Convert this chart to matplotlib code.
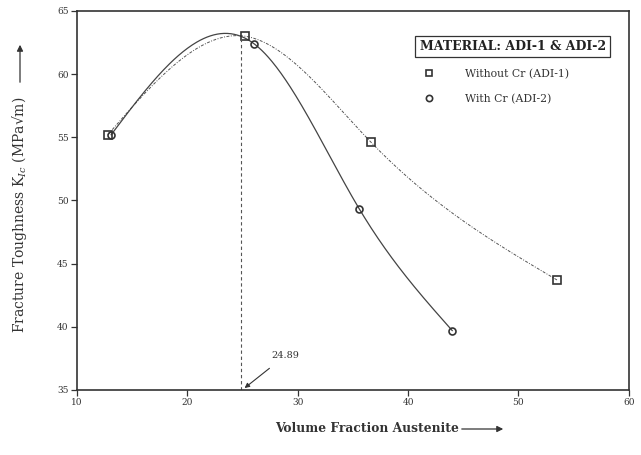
import matplotlib
matplotlib.use("Agg")
import matplotlib.pyplot as plt
from matplotlib.lines import Line2D
import numpy as np

plt.rcParams["font.family"] = "DejaVu Serif"
plt.rcParams["mathtext.fontset"] = "dejavuserif"

# Volume fraction austenite (%) and fracture toughness K_Ic (MPa sqrt(m))
adi1_vf = [12.8, 25.2, 36.65, 53.5]
adi1_kic = [55.2, 63.0, 54.6, 43.7]
adi2_vf = [13.1, 26.05, 35.6, 44.0]
adi2_kic = [55.2, 62.4, 49.3, 39.7]
peak_vf = 24.89


def natural_spline(x, y, num=300):
    # natural cubic spline through the measured points
    x = np.asarray(x, float)
    y = np.asarray(y, float)
    n = len(x)
    h = np.diff(x)
    A = np.zeros((n, n))
    b = np.zeros(n)
    A[0, 0] = A[-1, -1] = 1.0
    for i in range(1, n - 1):
        A[i, i - 1] = h[i - 1]
        A[i, i] = 2 * (h[i - 1] + h[i])
        A[i, i + 1] = h[i]
        b[i] = 6 * ((y[i + 1] - y[i]) / h[i] - (y[i] - y[i - 1]) / h[i - 1])
    M = np.linalg.solve(A, b)
    xs = np.linspace(x[0], x[-1], num)
    k = np.clip(np.searchsorted(x, xs) - 1, 0, n - 2)
    t0 = x[k + 1] - xs
    t1 = xs - x[k]
    hk = h[k]
    ys = (M[k] * t0**3 + M[k + 1] * t1**3) / (6 * hk) \
        + (y[k] / hk - M[k] * hk / 6) * t0 + (y[k + 1] / hk - M[k + 1] * hk / 6) * t1
    return xs, ys


fig = plt.figure(figsize=(6.41, 4.55), dpi=100)
ax = fig.add_axes([0.120, 0.143, 0.861, 0.833])

ink = "#333333"

xs, ys = natural_spline(adi1_vf, adi1_kic)
ax.plot(xs, ys, color="#555555", lw=0.7, linestyle=(0, (3, 1.5, 1, 1.5)))
xs, ys = natural_spline(adi2_vf, adi2_kic)
ax.plot(xs, ys, color="#444444", lw=0.9)

ax.plot(adi1_vf, adi1_kic, linestyle="none", marker="s", ms=5.5,
        mfc="none", mec=ink, mew=1.2)
ax.plot(adi2_vf, adi2_kic, linestyle="none", marker="o", ms=5,
        mfc="none", mec=ink, mew=1.2)

# peak position marker
ax.plot([peak_vf, peak_vf], [35, adi1_kic[1]], color="#555555", lw=0.8,
        linestyle=(0, (3, 2.5)))
ax.annotate(f"{peak_vf:.2f}", xy=(peak_vf + 0.3, 35.15), xytext=(27.6, 37.5),
            fontsize=7, color=ink,
            arrowprops=dict(arrowstyle="-|>", color=ink, lw=0.8,
                            mutation_scale=7, shrinkA=6, shrinkB=0))

ax.set_xlim(10, 60)
ax.set_ylim(35, 65)
ax.set_xticks(range(10, 61, 10))
ax.set_yticks(range(35, 66, 5))
ax.tick_params(direction="out", length=4, width=0.9, labelsize=6.5,
               colors=ink, pad=2)
for s in ax.spines.values():
    s.set_linewidth(1.2)
    s.set_color(ink)

# legend
ax.text(0.79, 0.906, "MATERIAL: ADI-1 & ADI-2", transform=ax.transAxes,
        ha="center", va="center", fontsize=9, fontweight="bold", color="#222222",
        bbox=dict(boxstyle="square,pad=0.35", fc="white", ec=ink, lw=0.9))
handles = [
    Line2D([], [], linestyle="none", marker="s", ms=5, mfc="none", mec=ink, mew=1.2),
    Line2D([], [], linestyle="none", marker="o", ms=4.5, mfc="none", mec=ink, mew=1.2),
]
ax.legend(handles, ["Without Cr (ADI-1)", "With Cr (ADI-2)"],
          loc="upper left", bbox_to_anchor=(0.617, 0.865), frameon=False,
          fontsize=7.8, handlelength=1.0, handletextpad=2.8, labelspacing=1.35,
          labelcolor=ink, borderaxespad=0.2)

# axis titles with arrows
fig.text(20, 240, "Fracture Toughness K$_{Ic}$ (MPa√m)", transform=None,
         rotation=90, ha="center", va="center", fontsize=10, color=ink)
ax.annotate("", xy=(20, 413), xytext=(20, 370), xycoords="figure pixels",
            textcoords="figure pixels",
            arrowprops=dict(arrowstyle="-|>", color=ink, lw=0.9, mutation_scale=9))
fig.text(367, 27, "Volume Fraction Austenite", transform=None,
         ha="center", va="center", fontsize=8.8, fontweight="bold", color=ink)
ax.annotate("", xy=(506, 26), xytext=(459, 26), xycoords="figure pixels",
            textcoords="figure pixels",
            arrowprops=dict(arrowstyle="-|>", color=ink, lw=0.9, mutation_scale=9))

fig.savefig("out.png", dpi=100)
